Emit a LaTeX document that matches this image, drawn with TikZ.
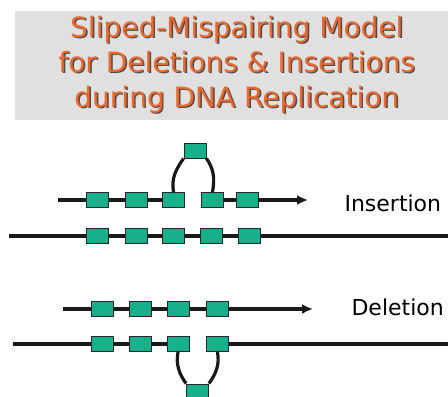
\documentclass[tikz,border=0pt]{standalone}
\usepackage{fontspec}
\setmainfont{DejaVu Sans}
\usetikzlibrary{arrows.meta}
\definecolor{titlegray}{RGB}{224,224,224}
\definecolor{titleorange}{RGB}{236,104,44}
\definecolor{basegreen}{RGB}{24,176,138}

\begin{document}
\begin{tikzpicture}[x=1pt,y=-1pt,
    basebox/.style={draw=black!85, line width=0.9pt, fill=basegreen,
        minimum width=22pt, minimum height=15pt, inner sep=0pt},
    strand/.style={line width=3.2pt, black!90},
    strandarrow/.style={strand, -{Latex[length=11pt,width=10pt]}},
    titletext/.style={font=\fontsize{28}{34}\selectfont, anchor=base},
    caselabel/.style={font=\fontsize{22}{26}\selectfont, anchor=base west}]
    \useasboundingbox (0,0) rectangle (448,397);

    % title panel with shadowed text
    \fill[titlegray] (15,11) rectangle (448,120);
    \foreach \t/\yy [count=\k] in {Sliped-Mispairing Model/37,
        for Deletions \& Insertions/72, during DNA Replication/107} {
        \node[titletext, black!70] (shadow\k) at (238.2,{\yy+1.4}) {\t};
        \node[titletext, titleorange] (title\k) at (236.8,\yy) {\t};
    }

    % insertion: new strand with a looped-out base
    \foreach \xx [count=\k] in {97.5,136,173.5,212.5,247}
        \node[basebox] (it\k) at (\xx,200) {};
    \node[basebox] (itloop) at (195,150.5) {};
    \coordinate (itstart) at (58,200);
    \coordinate (itend) at (308,200);
    \draw[strand] (itstart) -- (it1) -- (it2) -- (it3);
    \draw[strand] (it4) -- (it5);
    \draw[strandarrow] (it5) -- (itend);
    \draw[strand] (it3.north) to[out=100,in=-125] (itloop.south west);
    \draw[strand] (it4.north) to[out=80,in=-55] (itloop.south east);

    % insertion: template strand
    \foreach \xx [count=\k] in {97.5,136,173.5,211.5,249.5}
        \node[basebox] (ib\k) at (\xx,236) {};
    \coordinate (ibstart) at (9,236);
    \coordinate (ibend) at (452,236);
    \draw[strand] (ibstart) -- (ib1) -- (ib2) -- (ib3) -- (ib4) -- (ib5) -- (ibend);

    \node[caselabel] (inslabel) at (341,211.5) {Insertion};

    % deletion: new strand
    \foreach \xx [count=\k] in {102,140,178,217.5}
        \node[basebox] (dt\k) at (\xx,309) {};
    \coordinate (dtstart) at (63,309);
    \coordinate (dtend) at (313,309);
    \draw[strand] (dtstart) -- (dt1) -- (dt2) -- (dt3) -- (dt4);
    \draw[strandarrow] (dt4) -- (dtend);

    % deletion: template strand with a looped-out base
    \foreach \xx [count=\k] in {102,140,178,217.5}
        \node[basebox] (db\k) at (\xx,344) {};
    \node[basebox] (dbloop) at (197.5,391.5) {};
    \coordinate (dbstart) at (13,344);
    \coordinate (dbend) at (452,344);
    \draw[strand] (dbstart) -- (db1) -- (db2) -- (db3);
    \draw[strand] (db4) -- (dbend);
    \draw[strand] (db3.south) to[out=-100,in=125] (dbloop.north west);
    \draw[strand] (db4.south) to[out=-80,in=55] (dbloop.north east);

    \node[caselabel] (dellabel) at (348,315) {Deletion};
\end{tikzpicture}
\end{document}
